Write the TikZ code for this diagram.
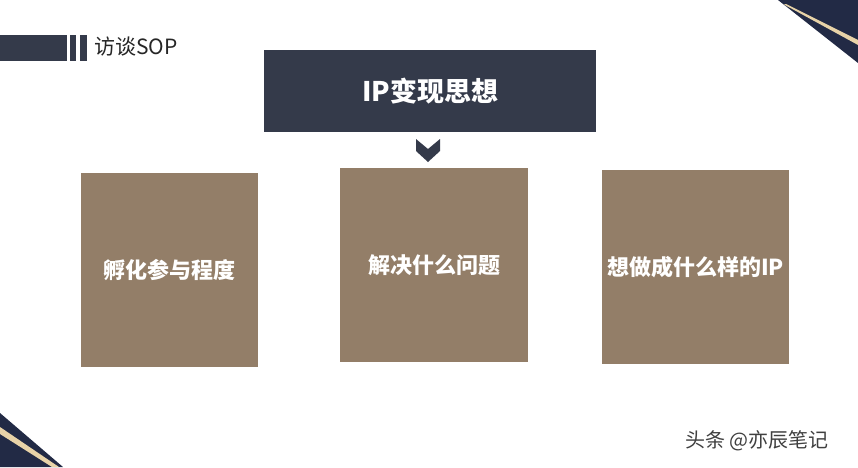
\documentclass[tikz,border=0pt]{standalone}
\usepackage{fontspec}
\setmainfont{Noto Sans CJK SC}
\definecolor{navy}{HTML}{343A4A}
\definecolor{tan}{HTML}{937E68}
\definecolor{gold}{HTML}{E8D3A8}
\definecolor{deepnavy}{HTML}{222A45}
\tikzset{
  tanbox/.style={fill=tan, draw=none, inner sep=0pt, font=\fontsize{22}{24}\selectfont\bfseries, text=white},
}
\begin{document}
\begin{tikzpicture}[x=1pt,y=-1pt]
\useasboundingbox[fill=white] (0,0) rectangle (858,467);
% corner decorations
\fill[deepnavy] (778,0) -- (858,0) -- (858,63) -- cycle;
\fill[gold] (786,4) -- (858,40) -- (858,45) -- (784,4.5) -- cycle;
\fill[deepnavy] (0,413) -- (63,467) -- (0,467) -- cycle;
\fill[gold] (0,427) -- (59,467) -- (52,467) -- (0,434) -- cycle;
% header
\fill[navy] (0,35) rectangle (67,61);
\fill[navy] (70,35) rectangle (76,61);
\fill[navy] (80,35) rectangle (87,61);
\node[anchor=west, inner sep=0pt, font=\fontsize{21}{23}\selectfont, text=black!85] (hdr) at (94,47) {访谈SOP};
% title
\node[fill=navy, minimum width=332pt, minimum height=82pt, inner sep=0pt, text=white, font=\fontsize{27}{29}\selectfont\bfseries] (title) at (430,91) {IP变现思想};
% chevron
\fill[navy] (416,139) -- (428,149) -- (440,139) -- (440,151) -- (428,162) -- (416,151) -- cycle;
\coordinate (chev) at (428,150);
% boxes
\node[tanbox, minimum width=177pt, minimum height=194pt] (b1) at (169.5,270) {孵化参与程度};
\node[tanbox, minimum width=188pt, minimum height=194pt] (b2) at (434,265) {解决什么问题};
\node[tanbox, minimum width=187pt, minimum height=194pt] (b3) at (695.5,267) {想做成什么样的IP};
% watermark
\node[anchor=west, inner sep=0pt, font=\fontsize{20}{22}\selectfont, text=black!75] (wm) at (685,441) {头条 @亦辰笔记};
\end{tikzpicture}
\end{document}
